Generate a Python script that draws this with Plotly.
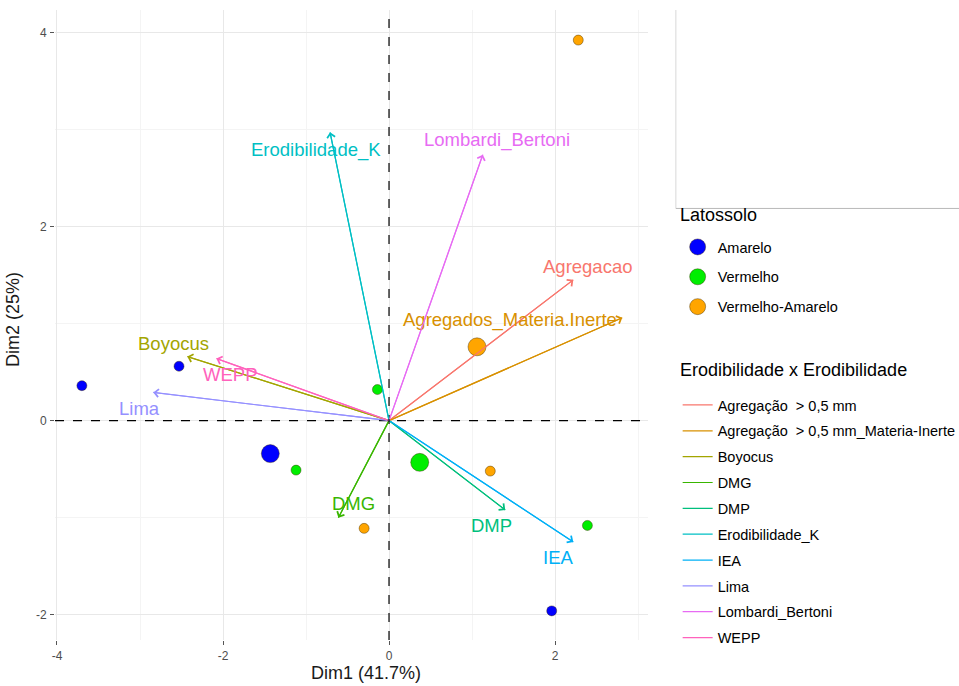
import plotly.graph_objects as go

# ---- individuals (PCA scores) by soil class ----
groups = ["Amarelo", "Vermelho", "Vermelho-Amarelo"]
group_colors = ["#0000FF", "#00EE00", "#FFA500"]

amarelo_x = [-3.70, -2.53, 1.96]
amarelo_y = [0.36, 0.56, -1.96]
vermelho_x = [-0.14, -1.12, 2.39]
vermelho_y = [0.32, -0.51, -1.08]
verm_amarelo_x = [2.28, 1.22, -0.30]
verm_amarelo_y = [3.92, -0.52, -1.11]

# group centroids
centroid_x = [-1.43, 0.37, 1.06]
centroid_y = [-0.34, -0.43, 0.76]

# ---- variables (loadings) ----
var_legend = ["Agregação  > 0,5 mm", "Agregação  > 0,5 mm_Materia-Inerte", "Boyocus", "DMG",
              "DMP", "Erodibilidade_K", "IEA", "Lima", "Lombardi_Bertoni", "WEPP"]
var_labels = ["Agregacao", "Agregados_Materia.Inerte", "Boyocus", "DMG",
              "DMP", "Erodibilidade_K", "IEA", "Lima", "Lombardi_Bertoni", "WEPP"]
var_x = [2.22, 2.81, -2.43, -0.61, 1.40, -0.71, 2.22, -2.84, 1.13, -2.08]
var_y = [1.45, 1.06, 0.66, -1.00, -0.92, 2.97, -1.25, 0.29, 2.74, 0.64]
label_x = [2.39, 1.46, -2.60, -0.43, 1.23, -0.88, 2.04, -3.01, 1.30, -1.92]
label_y = [1.59, 1.04, 0.79, -0.85, -1.08, 2.79, -1.41, 0.12, 2.89, 0.47]
var_colors = ["#F8766D", "#D89000", "#A3A500", "#39B600", "#00BF7D",
              "#00BFC4", "#00B0F6", "#9590FF", "#E76BF3", "#FF62BC"]

# axis ticks
x_tickvals = [-4, -2, 0, 2]
x_ticktext = ["-4", "-2", "0", "2"]
y_tickvals = [-2, 0, 2, 4]
y_ticktext = ["-2", "0", "2", "4"]

FONT = "Liberation Sans, Arial, sans-serif"
fig = go.Figure()

# arrows: shaft lines (also the legend entries), open arrowheads and text labels
for i, name in enumerate(var_legend):
    fig.add_trace(go.Scatter(
        x=[0, var_x[i]], y=[0, var_y[i]], mode="lines",
        line=dict(color=var_colors[i], width=1.2), hoverinfo="skip",
        name=name, legend="legend2", legendgroup="v" + str(i)))
    fig.add_annotation(
        x=var_x[i], y=var_y[i], ax=0, ay=0, xref="x", yref="y", axref="x", ayref="y",
        text="", showarrow=True, arrowhead=4, arrowsize=1.3, arrowwidth=1.2,
        arrowcolor=var_colors[i], standoff=0)
    fig.add_annotation(
        x=label_x[i], y=label_y[i], text=var_labels[i], showarrow=False,
        font=dict(color=var_colors[i], size=18.5, family=FONT))

# individuals
pts = [(amarelo_x, amarelo_y), (vermelho_x, vermelho_y), (verm_amarelo_x, verm_amarelo_y)]
for g, (gx, gy) in enumerate(pts):
    fig.add_trace(go.Scatter(
        x=gx, y=gy, mode="markers", showlegend=False,
        marker=dict(size=10, color=group_colors[g],
                    line=dict(color="rgba(60,40,0,0.6)", width=0.7))))
    fig.add_trace(go.Scatter(
        x=[centroid_x[g]], y=[centroid_y[g]], mode="markers", name=groups[g],
        legend="legend", legendgroup="g" + str(g),
        marker=dict(size=18, color=group_colors[g],
                    line=dict(color="rgba(60,40,0,0.6)", width=0.7))))

# dashed reference lines through the origin
fig.add_shape(type="line", xref="x", yref="paper", x0=0, x1=0, y0=0, y1=1,
              line=dict(color="black", width=1.2, dash="dash"))
fig.add_shape(type="line", xref="paper", yref="y", x0=0, x1=1, y0=0, y1=0,
              line=dict(color="black", width=1.2, dash="dash"))

# frame lines on the upper right
fig.add_shape(type="line", xref="paper", yref="paper", x0=1.047, x1=1.047, y0=0.685, y1=1.0,
              line=dict(color="#d8d8d8", width=1))
fig.add_shape(type="line", xref="paper", yref="paper", x0=1.047, x1=1.53, y0=0.685, y1=0.685,
              line=dict(color="#b8b8b8", width=1))

# axis titles
fig.add_annotation(x=0.5245, y=(640 - 673) / 630, xref="paper", yref="paper", text="Dim1 (41.7%)",
                   showarrow=False, xanchor="center", yanchor="middle",
                   font=dict(size=18, color="#1a1a1a", family=FONT))
fig.add_annotation(x=-0.0708, y=0.508, xref="paper", yref="paper", text="Dim2 (25%)",
                   showarrow=False, textangle=-90, xanchor="center", yanchor="middle",
                   font=dict(size=18, color="#1a1a1a", family=FONT))

# legend titles
fig.add_annotation(x=1.0506, y=0.6746, xref="paper", yref="paper", text="Latossolo",
                   showarrow=False, xanchor="left", yanchor="middle",
                   font=dict(size=18, color="black", family=FONT))
fig.add_annotation(x=1.0506, y=0.4286, xref="paper", yref="paper",
                   text="Erodibilidade x Erodibilidade",
                   showarrow=False, xanchor="left", yanchor="middle",
                   font=dict(size=18, color="black", family=FONT))

axis_common = dict(
    showgrid=True, gridcolor="#e8e8e8", gridwidth=1, zeroline=False, showline=False,
    ticks="outside", ticklen=4, tickcolor="#555555", tickwidth=1, ticklabelstandoff=1,
    tickfont=dict(size=12, color="#4d4d4d", family=FONT),
    minor=dict(showgrid=True, gridcolor="#f4f4f4", gridwidth=1, dtick=1, tick0=0),
)
fig.update_xaxes(range=[-4.024, 3.12], tickmode="array", tickvals=x_tickvals,
                 ticktext=x_ticktext, **axis_common)
fig.update_yaxes(range=[-2.26, 4.23], tickmode="array", tickvals=y_tickvals,
                 ticktext=y_ticktext, **axis_common)

fig.update_layout(
    width=959, height=686,
    margin=dict(l=55, r=311, t=10, b=46, autoexpand=False),
    plot_bgcolor="white", paper_bgcolor="white",
    font=dict(family=FONT, size=14.5, color="#222222"),
    legend=dict(x=1.05, y=(640 - 231) / 630, xanchor="left", yanchor="top",
                tracegroupgap=8, font=dict(size=14.5, color="black"),
                bgcolor="rgba(0,0,0,0)"),
    legend2=dict(x=1.05, y=(640 - 389) / 630, xanchor="left", yanchor="top",
                 tracegroupgap=4, font=dict(size=14.5, color="black"),
                 bgcolor="rgba(0,0,0,0)"),
)

fig.write_html("out.html")
